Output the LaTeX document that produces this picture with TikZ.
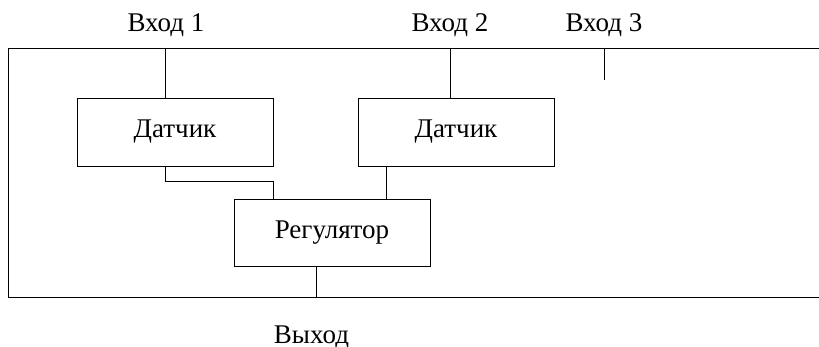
\documentclass[tikz,border=0pt]{standalone}
\usepackage{fontspec}
\setmainfont{Liberation Serif}
\begin{document}
\begin{tikzpicture}[x=1pt,y=-1pt,line width=0.9pt,
  block/.style={draw,minimum width=196pt,inner sep=0pt,
    font=\fontsize{27}{32}\selectfont},
  lbl/.style={anchor=base,inner sep=0pt,font=\fontsize{27}{32}\selectfont}]
\useasboundingbox (0,0) rectangle (819,347);
% frame of the controlled object
\coordinate (tr) at (819,48);
\coordinate (tl) at (8,48);
\coordinate (bl) at (8,297);
\coordinate (br) at (819,297);
\draw (tr) -- (tl) -- (bl) -- (br);
% blocks
\node[block,minimum height=68pt] (d1) at (175,132) {Датчик};
\node[block,minimum height=68pt] (d2) at (456,132) {Датчик};
\node[block,minimum height=67pt] (reg) at (332,232.5) {Регулятор};
% inputs and output labels
\node[lbl] (in1) at (166,32) {Вход 1};
\node[lbl] (in2) at (450,32) {Вход 2};
\node[lbl] (in3) at (604,32) {Вход 3};
\node[lbl] (out) at (311.5,343) {Выход};
% input taps on the frame
\coordinate (t1) at (165,48);
\coordinate (t2) at (450,48);
\coordinate (t3) at (604,48);
\coordinate (t3e) at (604,80);
\draw (t1) -- (t1 |- d1.north);
\draw (t2) -- (t2 |- d2.north);
\draw (t3) -- (t3e);
% sensors to controller
\coordinate (k1) at (165,181);
\coordinate (k2) at (273,181);
\draw (k1 |- d1.south) -- (k1) -- (k2) -- (k2 |- reg.north);
\coordinate (k3) at (386,181);
\draw (k3 |- d2.south) -- (k3 |- reg.north);
% controller to output line
\coordinate (o1) at (316,297);
\draw (o1 |- reg.south) -- (o1);
\end{tikzpicture}
\end{document}
